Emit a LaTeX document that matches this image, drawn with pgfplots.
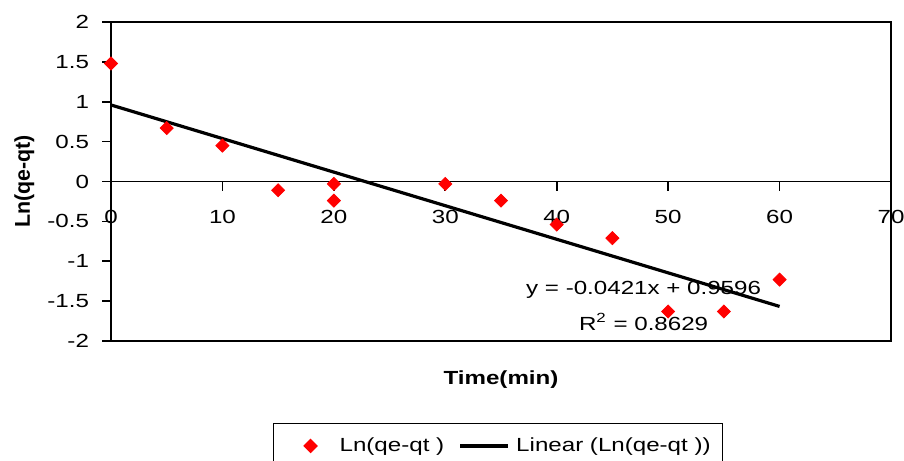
\documentclass[border=0pt]{standalone}
\usepackage{fontspec}
\setmainfont{Liberation Sans}[FakeStretch=1.27]
\newfontfamily\ylabfont{Liberation Sans}
\usepackage{pgfplots}
\pgfplotsset{compat=1.18}
\pgfplotsset{
  dot key/.style={legend image code/.code={%
    \path[draw=none] (0pt,0pt) -- (27pt,0pt);
    \draw[##1] plot coordinates {(12.5pt,0pt)};}},
  trend key/.style={legend image code/.code={%
    \path[draw=none] (0pt,0pt) -- (36pt,0pt);
    \draw[##1] (8pt,0pt) -- (32pt,0pt);}},
}

\begin{document}
\begin{tikzpicture}
\begin{axis}[
  name=ax,
  scale only axis,
  width=390pt, height=159.5pt,
  xmin=0, xmax=70, ymin=-2, ymax=2,
  xtick={0,10,...,70},
  ytick={-2,-1.5,...,2},
  axis x line=middle,
  axis y line=left,
  axis line style={-, line width=0.8pt},
  tick style={black, line width=0.8pt},
  tick align=outside,
  major tick length=4.5pt,
  hide obscured x ticks=false,
  hide obscured y ticks=false,
  clip=false,
  font=\fontsize{9.5}{11}\selectfont,
  /pgf/number format/assume math mode=true,
  yticklabel style={xshift=-3pt},
  xticklabel style={yshift=-6.5pt},
  xlabel={\textbf{Time(min)}},
  ylabel={\ylabfont\fontsize{10.7}{12}\selectfont\bfseries Ln(qe-qt)},
  xlabel style={at={(axis description cs:0.5,-0.1223)}, anchor=center},
  ylabel style={at={(axis description cs:-0.111,0.5)}, anchor=center},
  legend columns=2,
  legend style={at={(axis description cs:0,0)}, anchor=north west,
    xshift=81pt, yshift=-41pt,
    draw=black, line width=0.6pt, inner xsep=6pt, inner ysep=4pt,
    nodes={inner xsep=0pt, inner ysep=3pt},
    font=\fontsize{9.5}{11}\selectfont,
    /tikz/every even column/.append style={column sep=0pt}},
]
\draw[line width=0.8pt] (rel axis cs:0,0) rectangle (rel axis cs:1,1);
\addplot[only marks, mark=square*, mark size=2.3pt,
  mark options={rotate=45, fill=red, draw=red}, color=red, dot key]
  coordinates {(0,1.48)(5,0.67)(10,0.45)(15,-0.11)(20,-0.03)(20,-0.24)
               (30,-0.03)(35,-0.24)(40,-0.54)(45,-0.71)(50,-1.63)(55,-1.63)(60,-1.23)};
\addlegendentry{Ln(qe-qt )}
\addplot[black, line width=1.6pt, trend key]
  coordinates {(0,0.9596)(60,-1.5664)};
\addlegendentry{Linear (Ln(qe-qt ))}
\node[font=\fontsize{9.5}{11}\selectfont] at (axis cs:47.8,-1.36) {y = -0.0421x + 0.9596};
\node[font=\fontsize{9.5}{11}\selectfont] at (axis cs:47.8,-1.76) {R\textsuperscript{2} = 0.8629};
\end{axis}
\pgfresetboundingbox
\path[use as bounding box] ([xshift=-55.5pt,yshift=-59.5pt]ax.south west)
  rectangle ([xshift=6.5pt,yshift=11pt]ax.north east);
\end{tikzpicture}
\end{document}
